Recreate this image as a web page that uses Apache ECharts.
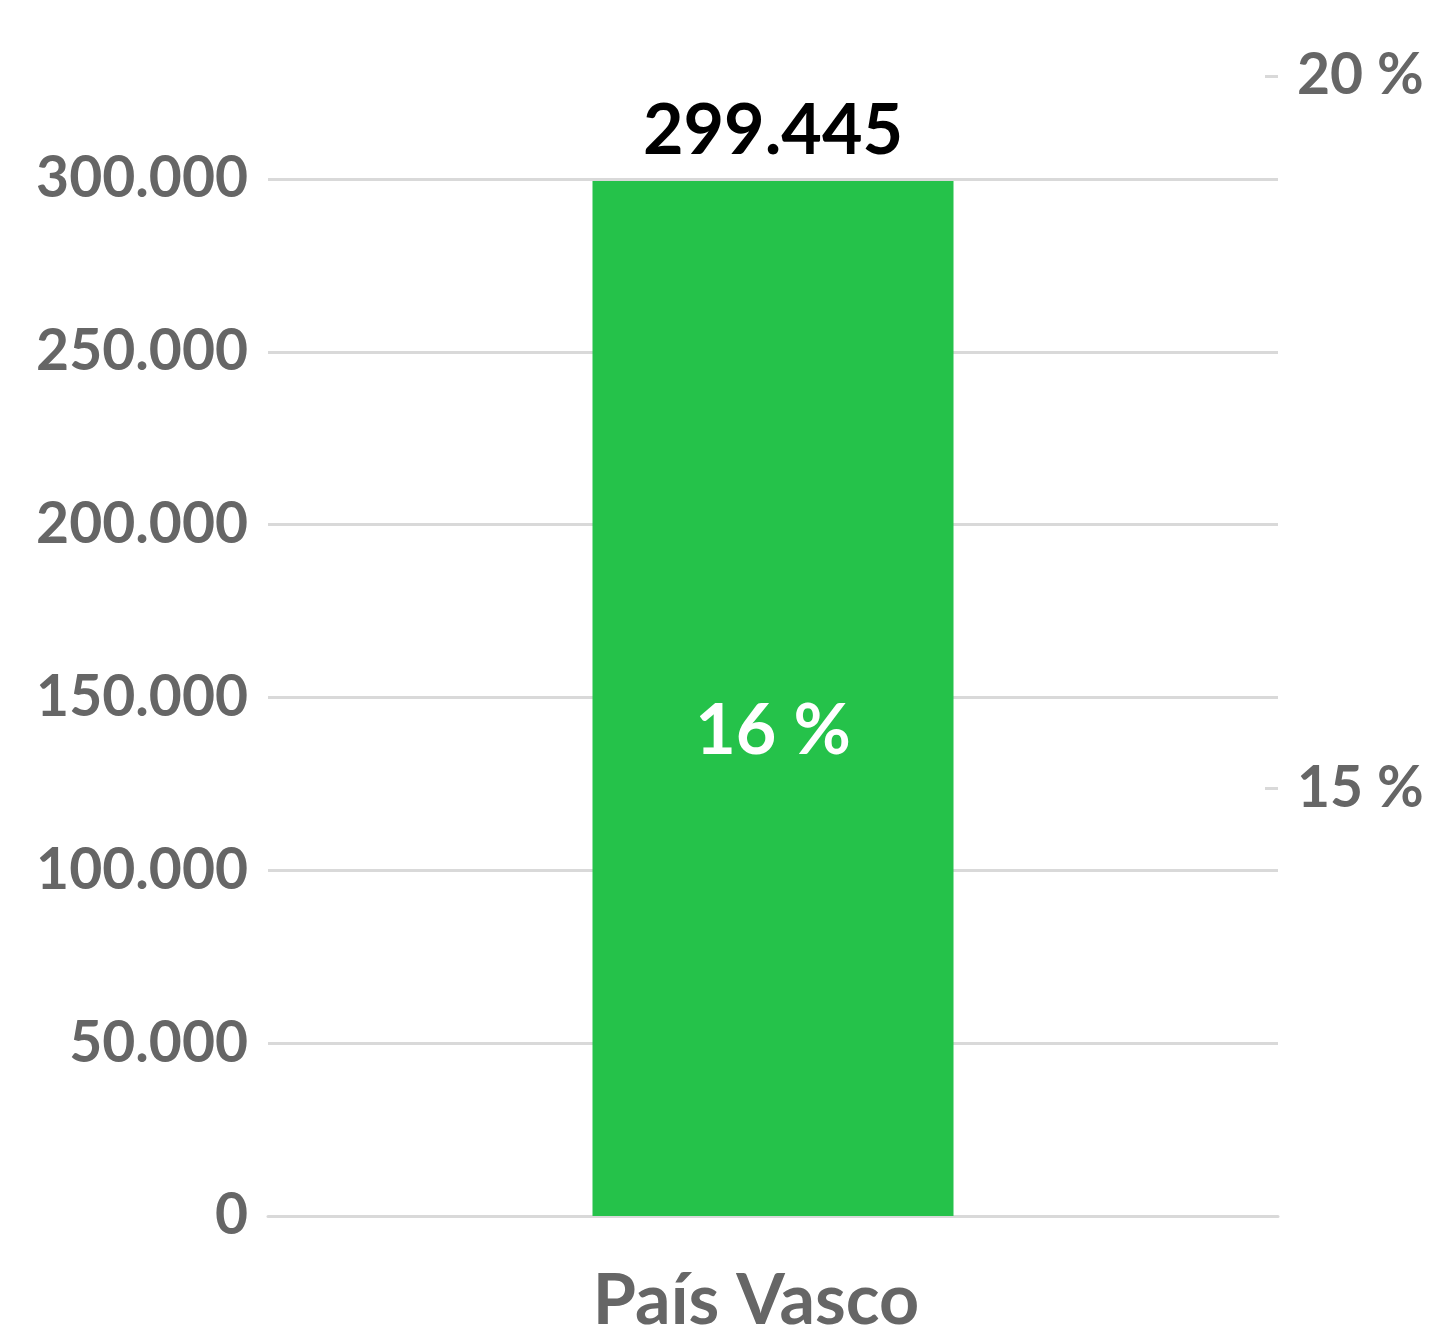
<!DOCTYPE html>
<html>
<head>
<meta charset="utf-8">
<script src="https://cdn.jsdelivr.net/npm/echarts@6/dist/echarts.min.js"></script>
<style>
  html, body { margin: 0; padding: 0; background: #fff; }
  #chart { width: 1433px; height: 1330px; }
</style>
</head>
<body>
<div id="chart"></div>
<script>
var categories = ['País Vasco'];
var values = [299445];
var shares = [16];
var leftMax = 300000;
var leftStep = 50000;
var rightTicks = [15, 20];

function miles(v) {
    return String(v).replace(/\B(?=(\d{3})+(?!\d))/g, '.');
}

var myChart = echarts.init(document.getElementById('chart'));
var font = 'Lato, "Open Sans", sans-serif';

var option = {
    backgroundColor: '#fff',
    animation: false,
    grid: [
        { left: 268, right: 155, top: 179, bottom: 114, outerBoundsMode: 'none' },
        { left: 268, right: 155, top: 76, bottom: 114, outerBoundsMode: 'none' }
    ],
    xAxis: [
        {
            type: 'category',
            gridIndex: 0,
            data: categories,
            axisLine: { lineStyle: { color: '#d9d9d9', width: 3 } },
            axisTick: { show: false },
            axisLabel: {
                color: '#666', fontSize: 70, fontWeight: 'bold',
                fontFamily: font, margin: 50,
                padding: [0, 34, 0, 0]
            }
        },
        { type: 'category', gridIndex: 1, data: categories, show: false }
    ],
    yAxis: [
        {
            type: 'value',
            gridIndex: 0,
            min: 0,
            max: leftMax,
            interval: leftStep,
            axisLine: { show: false },
            axisTick: { show: false },
            splitLine: { lineStyle: { color: '#d9d9d9', width: 3 } },
            axisLabel: {
                color: '#666', fontSize: 57, fontWeight: 'bold',
                fontFamily: font, margin: 20,
                formatter: miles
            }
        },
        {
            type: 'value',
            gridIndex: 1,
            position: 'right',
            min: 12,
            max: 20,
            axisLine: { show: false },
            splitLine: { show: false },
            axisTick: {
                show: true, inside: true, length: 13,
                customValues: rightTicks,
                lineStyle: { color: '#d9d9d9', width: 3 }
            },
            axisLabel: {
                color: '#666', fontSize: 57, fontWeight: 'bold',
                fontFamily: font, margin: 19,
                customValues: rightTicks,
                formatter: function (v) { return v + ' %'; }
            }
        }
    ],
    series: [
        {
            type: 'bar',
            xAxisIndex: 0,
            yAxisIndex: 0,
            data: values,
            barWidth: 361,
            itemStyle: { color: '#25c24a' },
            label: {
                show: true,
                position: 'top',
                distance: 14,
                color: '#000',
                fontSize: 70,
                fontWeight: 'bold',
                fontFamily: font,
                formatter: function (p) { return miles(p.value); }
            }
        },
        {
            type: 'bar',
            xAxisIndex: 0,
            yAxisIndex: 0,
            data: values,
            barWidth: 361,
            barGap: '-100%',
            itemStyle: { color: 'rgba(0,0,0,0)' },
            label: {
                show: true,
                position: 'inside',
                offset: [0, 33],
                color: '#fff',
                fontSize: 70,
                fontWeight: 'bold',
                fontFamily: font,
                formatter: function (p) { return shares[p.dataIndex] + ' %'; }
            }
        }
    ]
};

myChart.setOption(option);
</script>
</body>
</html>
